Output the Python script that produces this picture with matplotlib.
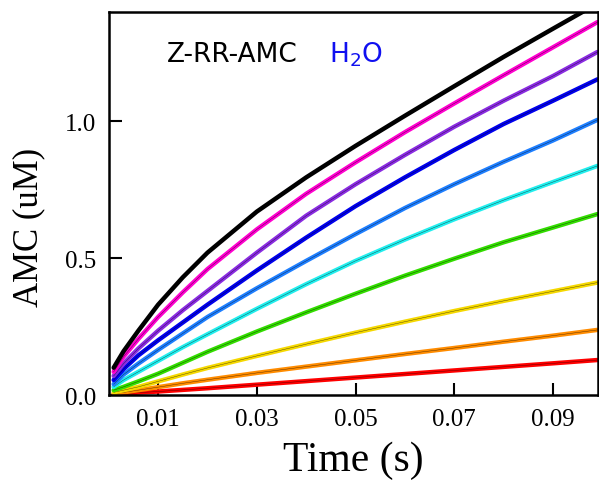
import numpy as np
import matplotlib
matplotlib.use("Agg")
import matplotlib.pyplot as plt

time = [0.001, 0.003, 0.006, 0.01, 0.015, 0.02, 0.03, 0.04,
        0.05, 0.06, 0.07, 0.08, 0.09, 0.099]

# AMC (uM), lowest trace first
red     = [0.003, 0.005, 0.009, 0.013, 0.019, 0.025, 0.038, 0.051,
           0.064, 0.077, 0.090, 0.103, 0.116, 0.128]
orange  = [0.005, 0.010, 0.018, 0.029, 0.043, 0.056, 0.081, 0.104,
           0.127, 0.150, 0.172, 0.195, 0.217, 0.238]
yellow  = [0.010, 0.018, 0.030, 0.050, 0.075, 0.099, 0.143, 0.186,
           0.228, 0.268, 0.307, 0.344, 0.379, 0.411]
green   = [0.018, 0.030, 0.050, 0.078, 0.118, 0.158, 0.232, 0.302,
           0.370, 0.436, 0.498, 0.558, 0.612, 0.661]
cyan    = [0.030, 0.055, 0.085, 0.125, 0.175, 0.222, 0.315, 0.405,
           0.490, 0.568, 0.642, 0.712, 0.778, 0.837]
azure   = [0.040, 0.075, 0.115, 0.165, 0.225, 0.285, 0.390, 0.490,
           0.588, 0.683, 0.770, 0.852, 0.930, 1.005]
blue    = [0.055, 0.095, 0.145, 0.200, 0.265, 0.330, 0.455, 0.575,
           0.690, 0.795, 0.895, 0.990, 1.075, 1.153]
violet  = [0.070, 0.115, 0.170, 0.235, 0.310, 0.380, 0.520, 0.655,
           0.770, 0.877, 0.980, 1.075, 1.165, 1.253]
magenta = [0.085, 0.140, 0.205, 0.285, 0.375, 0.460, 0.605, 0.735,
           0.850, 0.960, 1.065, 1.168, 1.270, 1.362]
black   = [0.100, 0.160, 0.235, 0.330, 0.430, 0.520, 0.670, 0.795,
           0.910, 1.020, 1.128, 1.235, 1.338, 1.430]

traces = [red, orange, yellow, green, cyan, azure, blue, violet, magenta, black]
colors = ['#ff0000', '#ff8c00', '#f5d800', '#33dd00', '#22eeee',
          '#1e7fff', '#0000ee', '#8a2be2', '#ff00d0', '#000000']

xticks = [0.01, 0.03, 0.05, 0.07, 0.09]
yticks = [0.0, 0.5, 1.0]

serif = 'Liberation Serif'

fig = plt.figure(figsize=(5.99, 4.89), dpi=100)
ax = fig.add_axes([0.1815, 0.190, 0.8175, 0.784])

for y, c in zip(traces, colors):
    ax.plot(time, y, color=c, lw=3.2, solid_capstyle='round')
    ax.plot(time, y, color='k', lw=0.3, alpha=0.7)

ax.set_xlim(0, 0.0992)
ax.set_ylim(0, 1.4)
ax.tick_params(direction='in', length=9, width=1.5, pad=9)
ax.set_xticks(xticks)
ax.set_xticklabels([f'{v:.2f}' for v in xticks], fontfamily=serif, fontsize=18)
ax.set_yticks(yticks)
ax.set_yticklabels([f'{v:.1f}' for v in yticks], fontfamily=serif, fontsize=18)

for sp in ax.spines.values():
    sp.set_linewidth(1.8)

ax.set_xlabel('Time (s)', fontfamily=serif, fontsize=30, labelpad=8)
ax.set_ylabel('AMC (uM)', fontfamily=serif, fontsize=25)
ax.yaxis.set_label_coords(-0.13, 0.44)

ax.text(0.118, 0.89, 'Z-RR-AMC', transform=ax.transAxes, fontsize=19,
        color='black', va='center', ha='left')
ax.text(0.45, 0.89, 'H$_2$O', transform=ax.transAxes, fontsize=19,
        color='#1010f0', va='center', ha='left')

fig.savefig('out.png', dpi=100)
